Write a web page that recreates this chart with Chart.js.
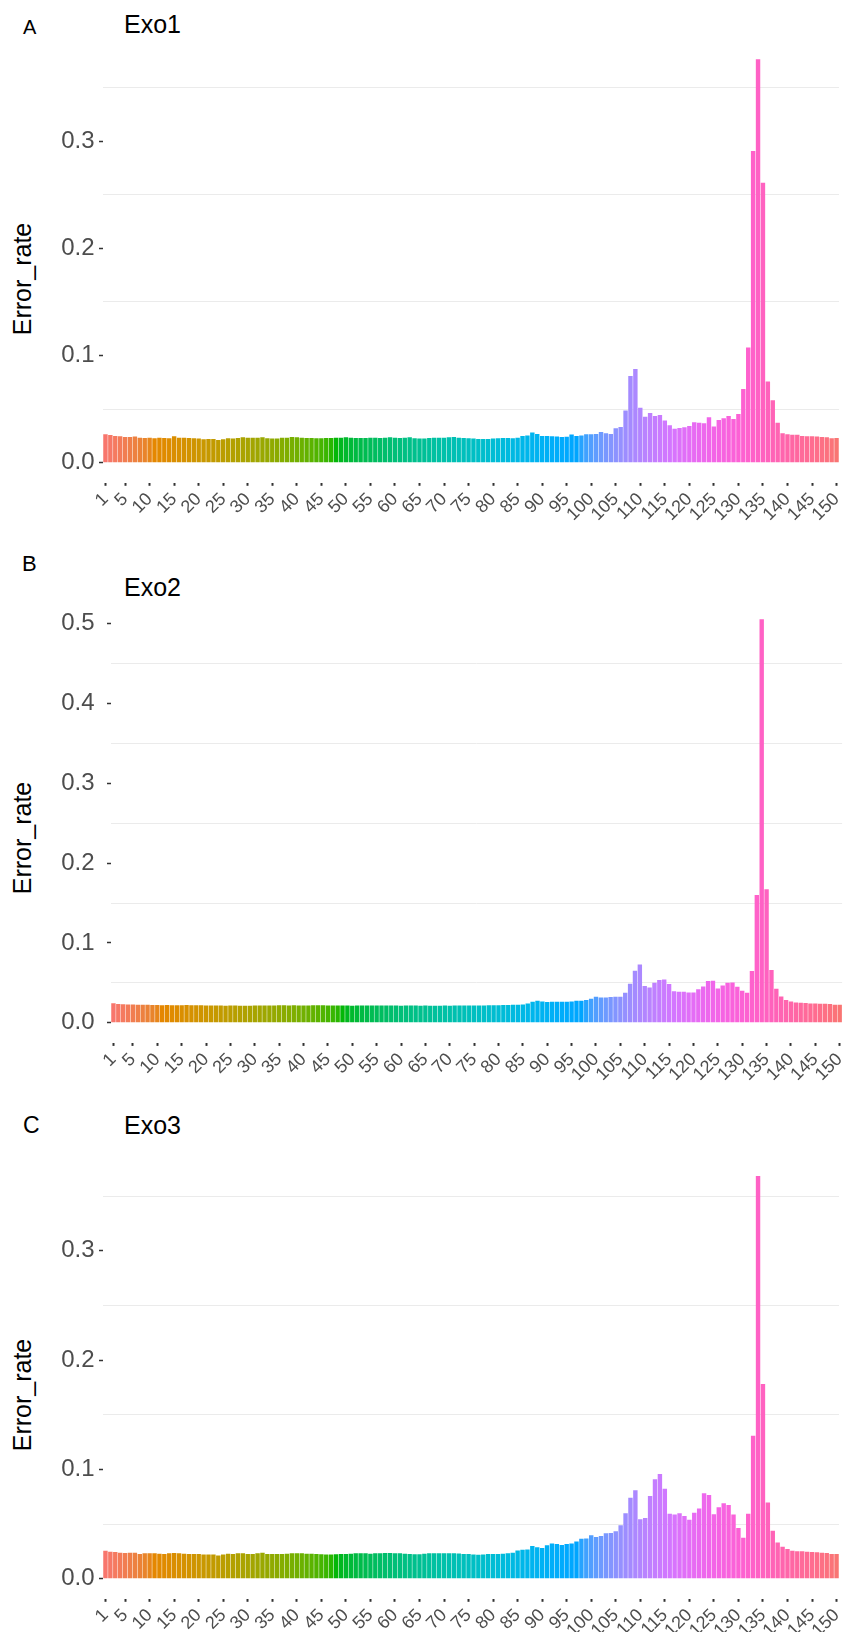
<!DOCTYPE html>
<html>
<head>
<meta charset="utf-8">
<script src="https://cdn.jsdelivr.net/npm/chart.js@4.4.0/dist/chart.umd.min.js"></script>
<style>
  html, body { margin: 0; padding: 0; background: #fff; }
  body { width: 858px; height: 1632px; position: relative; overflow: hidden;
         font-family: "Liberation Sans", Arial, sans-serif; }
  .panel { position: absolute; left: 0; width: 858px; }
  .txt { position: absolute; white-space: nowrap; line-height: 1; color: #000; }
  .ylab { transform: translate(-50%, -50%) rotate(-90deg); font-size: 25px; }
</style>
</head>
<body>

<div class="txt" style="left:23px;top:17px;font-size:20px">A</div>
<div class="txt" style="left:124px;top:12px;font-size:25px">Exo1</div>
<div class="txt ylab" style="left:22px;top:279px">Error_rate</div>
<div class="panel" style="top:0;height:545px"><canvas id="chartA" width="858" height="545"></canvas></div>

<div class="txt" style="left:22px;top:553px;font-size:22px">B</div>
<div class="txt" style="left:124px;top:575px;font-size:25px">Exo2</div>
<div class="txt ylab" style="left:22px;top:838px">Error_rate</div>
<div class="panel" style="top:545px;height:555px"><canvas id="chartB" width="858" height="555"></canvas></div>

<div class="txt" style="left:23px;top:1114px;font-size:23px">C</div>
<div class="txt" style="left:124px;top:1113px;font-size:25px">Exo3</div>
<div class="txt ylab" style="left:22px;top:1395px">Error_rate</div>
<div class="panel" style="top:1100px;height:532px"><canvas id="chartC" width="858" height="532"></canvas></div>

<script>
/* read positions 1..150 */
const positions = Array.from({ length: 150 }, (_, i) => String(i + 1));
const tickLabels = ["1", "5", "10", "15", "20", "25", "30", "35", "40", "45", "50",
  "55", "60", "65", "70", "75", "80", "85", "90", "95", "100", "105", "110", "115",
  "120", "125", "130", "135", "140", "145", "150"];

/* error rate per position */
const errExo1 = [
  0.0264, 0.0258, 0.0249, 0.0246, 0.0239, 0.0239, 0.0243, 0.0233, 0.0230, 0.0233,
  0.0227, 0.0233, 0.0230, 0.0227, 0.0246, 0.0233, 0.0233, 0.0230, 0.0227, 0.0224,
  0.0218, 0.0221, 0.0221, 0.0211, 0.0218, 0.0227, 0.0224, 0.0230, 0.0236, 0.0233,
  0.0233, 0.0233, 0.0236, 0.0227, 0.0224, 0.0224, 0.0233, 0.0233, 0.0239, 0.0236,
  0.0233, 0.0230, 0.0230, 0.0227, 0.0227, 0.0230, 0.0230, 0.0233, 0.0233, 0.0236,
  0.0233, 0.0230, 0.0230, 0.0230, 0.0233, 0.0233, 0.0230, 0.0233, 0.0236, 0.0233,
  0.0230, 0.0233, 0.0236, 0.0227, 0.0224, 0.0224, 0.0230, 0.0233, 0.0233, 0.0233,
  0.0236, 0.0239, 0.0233, 0.0230, 0.0227, 0.0224, 0.0221, 0.0221, 0.0221, 0.0224,
  0.0227, 0.0230, 0.0230, 0.0227, 0.0233, 0.0249, 0.0252, 0.0280, 0.0267, 0.0249,
  0.0249, 0.0246, 0.0243, 0.0240, 0.0241, 0.0262, 0.0249, 0.0253, 0.0265, 0.0265,
  0.0267, 0.0285, 0.0274, 0.0266, 0.0320, 0.0333, 0.0486, 0.0808, 0.0874, 0.0513,
  0.0429, 0.0463, 0.0435, 0.0445, 0.0392, 0.0348, 0.0317, 0.0323, 0.0330, 0.0342,
  0.0376, 0.0373, 0.0367, 0.0423, 0.0336, 0.0398, 0.0414, 0.0435, 0.0407, 0.0454,
  0.0687, 0.1073, 0.2907, 0.3762, 0.2612, 0.0756, 0.0581, 0.0373, 0.0274, 0.0264,
  0.0261, 0.0261, 0.0249, 0.0246, 0.0246, 0.0243, 0.0240, 0.0236, 0.0227, 0.0230
];
const errExo2 = [
  0.0245, 0.0236, 0.0232, 0.0230, 0.0228, 0.0226, 0.0225, 0.0224, 0.0223, 0.0222,
  0.0220, 0.0221, 0.0219, 0.0218, 0.0219, 0.0221, 0.0220, 0.0219, 0.0218, 0.0217,
  0.0216, 0.0217, 0.0215, 0.0214, 0.0215, 0.0216, 0.0214, 0.0213, 0.0214, 0.0215,
  0.0216, 0.0215, 0.0217, 0.0216, 0.0218, 0.0219, 0.0217, 0.0218, 0.0217, 0.0216,
  0.0217, 0.0218, 0.0219, 0.0218, 0.0217, 0.0216, 0.0215, 0.0216, 0.0215, 0.0214,
  0.0215, 0.0216, 0.0215, 0.0216, 0.0217, 0.0216, 0.0215, 0.0216, 0.0215, 0.0214,
  0.0215, 0.0216, 0.0215, 0.0214, 0.0215, 0.0214, 0.0213, 0.0214, 0.0215, 0.0214,
  0.0215, 0.0216, 0.0215, 0.0216, 0.0217, 0.0216, 0.0217, 0.0218, 0.0219, 0.0220,
  0.0221, 0.0222, 0.0224, 0.0226, 0.0230, 0.0240, 0.0262, 0.0276, 0.0267, 0.0259,
  0.0263, 0.0263, 0.0263, 0.0263, 0.0267, 0.0276, 0.0276, 0.0284, 0.0301, 0.0326,
  0.0317, 0.0317, 0.0322, 0.0326, 0.0326, 0.0376, 0.0489, 0.0652, 0.0731, 0.0459,
  0.0443, 0.0501, 0.0535, 0.0543, 0.0485, 0.0393, 0.0388, 0.0388, 0.0380, 0.0380,
  0.0418, 0.0455, 0.0522, 0.0526, 0.0430, 0.0468, 0.0501, 0.0505, 0.0451, 0.0401,
  0.0376, 0.0647, 0.1600, 0.5054, 0.1671, 0.0660, 0.0426, 0.0330, 0.0284, 0.0267,
  0.0255, 0.0251, 0.0246, 0.0242, 0.0242, 0.0238, 0.0238, 0.0234, 0.0226, 0.0226
];
const errExo3 = [
  0.0256, 0.0247, 0.0244, 0.0238, 0.0235, 0.0238, 0.0238, 0.0226, 0.0232, 0.0232,
  0.0232, 0.0229, 0.0226, 0.0232, 0.0235, 0.0232, 0.0229, 0.0226, 0.0226, 0.0226,
  0.0220, 0.0220, 0.0220, 0.0213, 0.0220, 0.0229, 0.0226, 0.0232, 0.0232, 0.0226,
  0.0226, 0.0232, 0.0238, 0.0226, 0.0226, 0.0226, 0.0226, 0.0229, 0.0232, 0.0232,
  0.0232, 0.0229, 0.0229, 0.0226, 0.0223, 0.0220, 0.0220, 0.0223, 0.0226, 0.0226,
  0.0229, 0.0232, 0.0232, 0.0232, 0.0229, 0.0232, 0.0232, 0.0235, 0.0235, 0.0232,
  0.0232, 0.0229, 0.0226, 0.0223, 0.0223, 0.0228, 0.0232, 0.0232, 0.0232, 0.0232,
  0.0232, 0.0232, 0.0230, 0.0226, 0.0226, 0.0222, 0.0218, 0.0220, 0.0226, 0.0226,
  0.0226, 0.0228, 0.0232, 0.0238, 0.0258, 0.0265, 0.0268, 0.0299, 0.0288, 0.0281,
  0.0306, 0.0322, 0.0317, 0.0307, 0.0318, 0.0322, 0.0341, 0.0366, 0.0367, 0.0398,
  0.0382, 0.0390, 0.0415, 0.0418, 0.0433, 0.0488, 0.0598, 0.0741, 0.0808, 0.0543,
  0.0555, 0.0756, 0.0909, 0.0958, 0.0823, 0.0595, 0.0586, 0.0598, 0.0573, 0.0540,
  0.0604, 0.0643, 0.0781, 0.0765, 0.0589, 0.0653, 0.0689, 0.0674, 0.0586, 0.0464,
  0.0375, 0.0595, 0.1308, 0.3684, 0.1781, 0.0698, 0.0439, 0.0332, 0.0293, 0.0271,
  0.0256, 0.0250, 0.0250, 0.0247, 0.0244, 0.0241, 0.0238, 0.0235, 0.0226, 0.0226
];

/* ggplot-style hue palette: hcl(h, c = 100, l = 65) */
function hclToHex(h, c, l) {
  const Xn = 95.047, Yn = 100, Zn = 108.883;
  const rad = h * Math.PI / 180;
  const U = c * Math.cos(rad), V = c * Math.sin(rad);
  const Y = Yn * (l > 7.999592 ? Math.pow((l + 16) / 116, 3) : l / 903.3);
  const t = Xn + Yn * 15 + Zn * 3;
  const u = U / (13 * l) + 4 * Xn / t;
  const v = V / (13 * l) + 9 * Yn / t;
  const X = 9 * Y * u / (4 * v);
  const Z = -X / 3 - 5 * Y + 3 * Y / v;
  const lin = [
    ( 3.240479 * X - 1.537150 * Y - 0.498535 * Z) / 100,
    (-0.969256 * X + 1.875992 * Y + 0.041556 * Z) / 100,
    ( 0.055648 * X - 0.204043 * Y + 1.057311 * Z) / 100
  ];
  return "#" + lin.map(x => {
    let g = x > 0.00304 ? 1.055 * Math.pow(x, 1 / 2.4) - 0.055 : 12.92 * x;
    g = Math.min(1, Math.max(0, g));
    return Math.round(g * 255).toString(16).padStart(2, "0");
  }).join("");
}
const barColours = positions.map((_, i) => hclToHex(15 + 360 * i / positions.length, 100, 65));

Chart.defaults.font.family = '"Liberation Sans", Arial, sans-serif';

const isMajor = v => Math.abs(v * 10 - Math.round(v * 10)) < 1e-6;
const showX = i => tickLabels.includes(positions[i]);
const clear = "rgba(0,0,0,0)";

function drawPanel(id, values, box) {
  const peak = Math.max(...values);
  new Chart(document.getElementById(id), {
    type: "bar",
    data: {
      labels: positions,
      datasets: [{
        data: values,
        backgroundColor: barColours,
        borderWidth: 0,
        categoryPercentage: 0.9,
        barPercentage: 1
      }]
    },
    options: {
      responsive: false,
      animation: false,
      layout: { padding: { left: 0, right: box.padRight, top: box.padTop, bottom: 0 } },
      plugins: { legend: { display: false }, tooltip: { enabled: false } },
      scales: {
        x: {
          border: { display: false },
          grid: {
            offset: false,
            color: clear,
            tickLength: 3,
            tickWidth: 2,
            tickColor: ctx => showX(ctx.index) ? "#333333" : clear
          },
          ticks: {
            autoSkip: false,
            minRotation: 45,
            maxRotation: 45,
            padding: 3,
            color: "#4d4d4d",
            font: { size: 18 },
            callback: (v, i) => showX(i) ? positions[i] : ""
          },
          afterFit: s => { s.height = box.xHeight; }
        },
        y: {
          min: -0.05 * peak,
          max: 1.05 * peak,
          afterBuildTicks: s => {
            const t = [];
            for (let k = 0; k * 0.05 <= 1.05 * peak; k++) t.push({ value: +(k * 0.05).toFixed(2) });
            s.ticks = t;
          },
          border: { display: false },
          grid: {
            lineWidth: 1,
            color: ctx => (ctx.tick && !isMajor(ctx.tick.value)) ? "#ebebeb" : clear,
            tickLength: 4,
            tickWidth: 1.5,
            tickColor: ctx => (ctx.tick && isMajor(ctx.tick.value)) ? "#333333" : clear
          },
          ticks: {
            autoSkip: false,
            padding: box.yPad,
            color: "#4d4d4d",
            font: { size: 24 },
            callback: v => isMajor(v) ? v.toFixed(1) : ""
          },
          afterFit: s => { s.width = box.left; }
        }
      }
    }
  });
}

drawPanel("chartA", errExo1, { left: 103, padRight: 19, padTop: 39.2, xHeight: 62.2, yPad: 4.5 });
drawPanel("chartB", errExo2, { left: 111, padRight: 11, padTop: 54.2, xHeight: 57.1, yPad: 12.5 });
drawPanel("chartC", errExo3, { left: 103, padRight: 19, padTop: 55.9, xHeight: 33.2, yPad: 4.5 });
</script>
</body>
</html>
